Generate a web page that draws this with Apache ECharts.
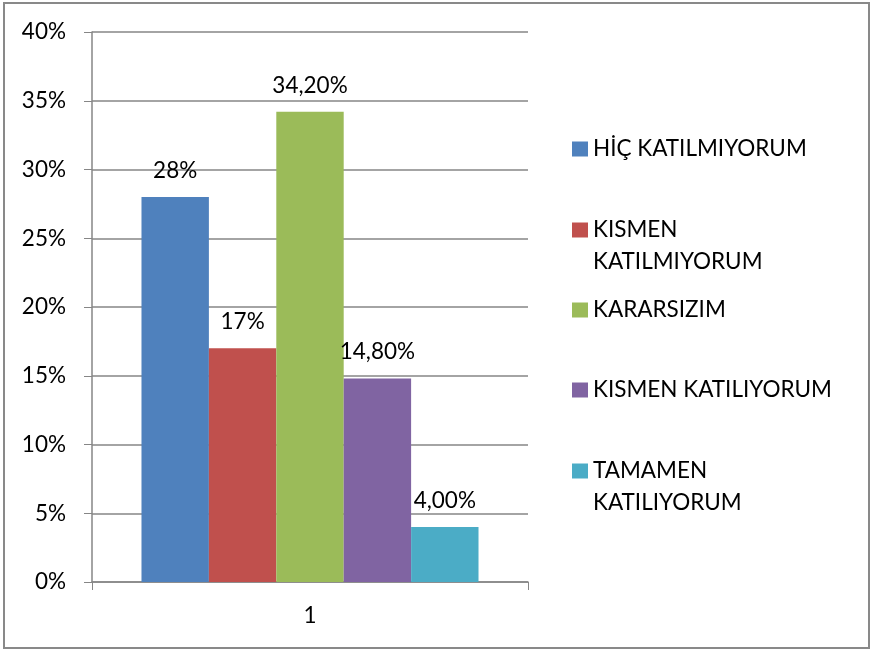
<!DOCTYPE html>
<html>
<head>
<meta charset="utf-8">
<script src="https://cdn.jsdelivr.net/npm/echarts@6/dist/echarts.min.js"></script>
<style>
  html, body { margin: 0; padding: 0; background: #fff; }
  #myChart { width: 871px; height: 650px; }
</style>
</head>
<body>
<div id="myChart"></div>
<script>
  // data
  var categories = ['1']
  var seriesNames = ['HİÇ KATILMIYORUM', 'KISMEN KATILMIYORUM', 'KARARSIZIM', 'KISMEN KATILIYORUM', 'TAMAMEN KATILIYORUM']
  var legendLines = [['HİÇ KATILMIYORUM'], ['KISMEN', 'KATILMIYORUM'], ['KARARSIZIM'], ['KISMEN KATILIYORUM'], ['TAMAMEN', 'KATILIYORUM']]
  var values = [28, 17, 34.2, 14.8, 4]
  var valueLabels = ['28%', '17%', '34,20%', '14,80%', '4,00%']
  var colors = ['#4F81BD', '#C0504D', '#9BBB59', '#8064A2', '#4BACC6']
  var yTicks = [0, 5, 10, 15, 20, 25, 30, 35, 40]

  var font = 'Lato'
  var fontSize = 22.5
  var lineH = 32
  // y centre of each legend marker
  var legendCenters = [149, 230, 310, 390, 471]

  var myChart = echarts.init(document.getElementById('myChart'))

  var legends = seriesNames.map(function (name, i) {
    var lines = legendLines[i]
    // text is centred on the marker, so for two lines put a blank line first
    // so that the first real line sits next to the marker
    var text = lines.length > 1 ? [' '].concat(lines).join('\n') : lines[0]
    var boxH = lines.length > 1 ? lineH * 3 : lineH
    return {
      left: 572,
      top: legendCenters[i] - boxH / 2,
      padding: 0,
      itemWidth: 16,
      itemHeight: 15,
      icon: 'rect',
      selectedMode: false,
      data: [name],
      formatter: function () { return text },
      textStyle: {
        fontFamily: font,
        fontSize: fontSize,
        color: '#000',
        lineHeight: lineH
      }
    }
  })

  var series = seriesNames.map(function (name, i) {
    return {
      name: name,
      type: 'bar',
      barGap: 0,
      barCategoryGap: '22.7%',
      itemStyle: { color: colors[i] },
      label: {
        show: true,
        position: 'top',
        distance: 15,
        fontFamily: font,
        fontSize: fontSize,
        color: '#000',
        formatter: function () { return valueLabels[i] }
      },
      data: [values[i]]
    }
  })

  myChart.setOption({
    animation: false,
    legend: legends,
    grid: {
      left: 92,
      right: 343,
      top: 32,
      bottom: 68
    },
    xAxis: {
      type: 'category',
      data: categories,
      axisLine: { lineStyle: { color: '#868686', width: 1.5 } },
      axisTick: { show: true, length: 8, lineStyle: { color: '#868686' } },
      axisLabel: { margin: 22, fontFamily: font, fontSize: fontSize, color: '#000' }
    },
    yAxis: {
      type: 'value',
      min: yTicks[0],
      max: yTicks[yTicks.length - 1],
      interval: 5,
      axisLine: { show: true, lineStyle: { color: '#868686', width: 1.5 } },
      axisTick: { show: true, length: 8, lineStyle: { color: '#868686' } },
      splitLine: { lineStyle: { color: '#868686', width: 1.5 } },
      axisLabel: {
        margin: 26,
        fontFamily: font,
        fontSize: fontSize,
        color: '#000',
        formatter: '{value}%'
      }
    },
    graphic: [
      {
        type: 'rect',
        shape: { x: 4, y: 3, width: 865, height: 645 },
        style: { fill: null, stroke: '#898989', lineWidth: 2 },
        silent: true
      }
    ],
    series: series
  })
</script>
</body>
</html>
